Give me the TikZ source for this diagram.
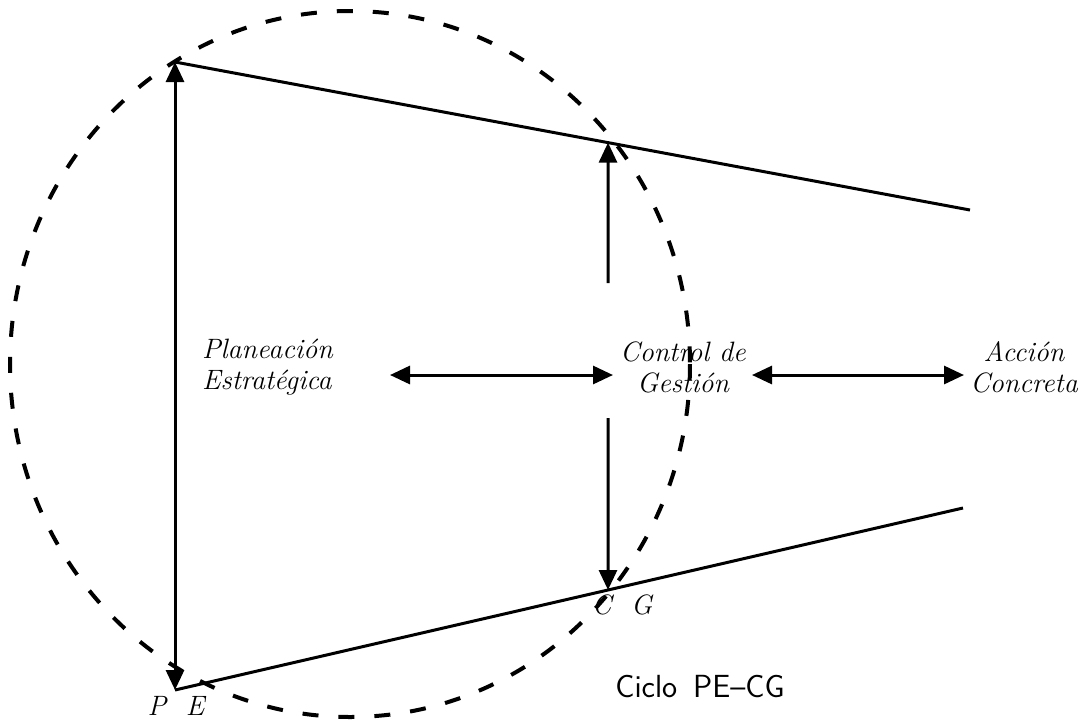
\documentclass[tikz,border=0pt]{standalone}
\usepackage{tikz}
\usetikzlibrary{arrows.meta,calc}

\begin{document}
\begin{tikzpicture}[x=0.5pt,y=-0.5pt]
    \pgfmathsetmacro{\cx}{350}
    \pgfmathsetmacro{\cy}{364}
    \pgfmathsetmacro{\midy}{375}
    \tikzset{every node/.style={font=\fontsize{14}{15.5}\selectfont\itshape}}
    \tikzset{tip/.style={-{Triangle[length=10pt,width=9pt]}}}
    \tikzset{flow/.style={line width=1.5pt,tip}}
    \tikzset{dflow/.style={line width=1.5pt,{Triangle[length=10pt,width=9pt]}-{Triangle[length=10pt,width=9pt]}}}
    \tikzset{edge/.style={line width=1.5pt}}
    \useasboundingbox (0,0) rectangle (1084,720);
    % cycle
    \draw[line width=2pt,dash pattern=on 8pt off 10pt] (\cx,\cy) ellipse [x radius=340, y radius=353];
    % frame lines
    \coordinate (PE-top) at (175,62);
    \coordinate (PE-bot) at (175,690);
    \coordinate (top-end) at (970,210);
    \coordinate (bot-end) at (963,508);
    \coordinate (CG-top) at ($(PE-top)!0.5447!(top-end)$);
    \coordinate (CG-bot) at ($(PE-bot)!0.5495!(bot-end)$);
    \draw[edge] (PE-top) -- (top-end);
    \draw[edge] (PE-bot) -- (bot-end);
    \draw[dflow] (PE-bot) -- (PE-top);
    % labels
    \node[anchor=west,align=left] (PE) at (195,367) {Planeaci\'on\\Estrat\'egica};
    \node[align=center] (CG) at (683,367) {Control de\\Gesti\'on};
    \node[align=center] (AC) at (1024,367) {Acci\'on\\Concreta};
    \node (PE-lab) at (176,706) {P\ \ E};
    \node (CG-lab) at (622,605) {C\ \ G};
    \node[font=\fontsize{16}{18}\selectfont\sffamily] (cycle) at (700,686) {Ciclo\enspace PE--CG};
    % arrows
    \coordinate (CG-up) at (608,283);
    \coordinate (CG-down) at (608,418);
    \draw[flow] (CG-up) -- (CG-top);
    \draw[flow] (CG-down) -- (CG-bot);
    \coordinate (a1) at (390,\midy);
    \coordinate (a2) at (613,\midy);
    \coordinate (a3) at (752,\midy);
    \coordinate (a4) at (964,\midy);
    \draw[dflow] (a1) -- (a2);
    \draw[dflow] (a3) -- (a4);
\end{tikzpicture}
\end{document}
